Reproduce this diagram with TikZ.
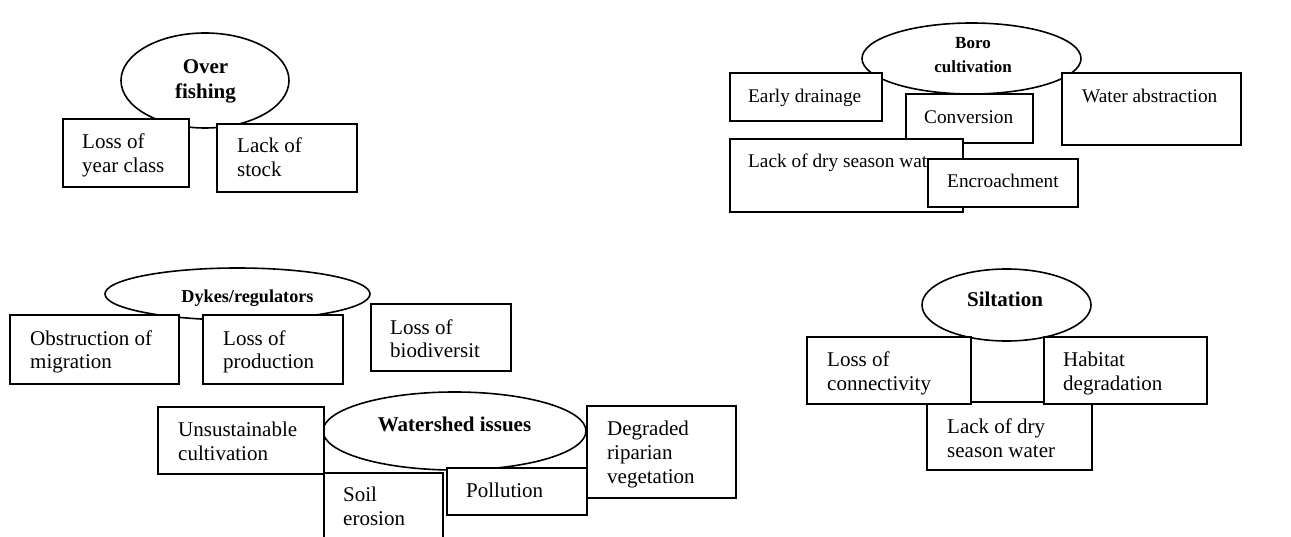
\documentclass[tikz,border=0pt]{standalone}
\usepackage{fontspec}
\setmainfont{Liberation Serif}
\usetikzlibrary{shapes.geometric}
\tikzset{
  boxshape/.style={draw, fill=white, line width=1.6pt, rectangle, inner sep=0pt, anchor=north west},
  boxtext/.style={font=\fontsize{21}{24}\selectfont, align=left, inner sep=0pt, anchor=base west},
  smalltext/.style={font=\fontsize{19.3}{23}\selectfont},
  ellshape/.style={draw, fill=white, line width=1.6pt, ellipse, inner sep=0pt},
  elltext/.style={font=\fontsize{21}{25}\selectfont\bfseries, align=center, inner sep=0pt, anchor=base},
}
% [text options] name, left, top, right, bottom, text-x, last-line baseline, text
\newcommand\mybx[9][]{%
  \node[boxshape, minimum width={(#5-#3)*1pt}, minimum height={(#6-#4)*1pt}] (#2) at (#3,#4) {};
  \node[boxtext,#1] (#2-t) at (#7,#8) {#9};
}
% [text options] name, cx, cy, w, h, text-x, last-line baseline, text
\newcommand\myel[9][]{%
  \node[ellshape, minimum width=#5pt, minimum height=#6pt] (#2) at (#3,#4) {};
  \node[elltext,#1] (#2-t) at (#7,#8) {#9};
}
\begin{document}
\begin{tikzpicture}[x=1pt, y=-1pt]
\path[use as bounding box, clip] (0,0) rectangle (1291,537);
\fill[white] (0,0) rectangle (1291,537);
% Over fishing
\myel{ofe}{205}{80.5}{168}{95}{205.5}{98.3}{Over\\fishing}
\mybx{loy}{62}{118}{188}{186}{82}{172.5}{Loss of\\year class}
\mybx{los}{216}{123}{356}{191}{237}{176.5}{Lack of\\stock}
% Boro cultivation
\myel[font=\fontsize{17}{24.4}\selectfont\bfseries]{bce}{971.5}{58.5}{219}{71}{973}{72.7}{Boro\\cultivation}
\mybx[smalltext]{edr}{729}{72}{881}{120}{748}{103}{Early drainage}
\mybx[smalltext]{wab}{1061}{72}{1240}{144}{1082}{103}{Water abstraction}
\mybx[smalltext]{con}{905}{93}{1032}{142}{924}{124}{Conversion}
\mybx[smalltext]{ldw}{729}{138}{962}{211}{748}{168}{Lack of dry season wat}
\mybx[smalltext]{enc}{927}{158}{1077}{206}{947}{188}{Encroachment}
% Dykes/regulators
\myel[font=\fontsize{18.2}{22}\selectfont\bfseries]{dre}{237.5}{294}{265}{52}{247.5}{303}{Dykes/regulators}
\mybx{obm}{9}{314}{178}{383}{30}{369}{Obstruction of\\migration}
\mybx{lop}{202}{314}{342}{383}{223}{369}{Loss of\\production}
\mybx{lob}{370}{303}{510}{370}{390}{358}{Loss of\\biodiversit}
% Watershed issues
\myel{wse}{454.5}{431}{263}{78}{454.5}{431.7}{Watershed issues}
\mybx{drv}{586}{405}{735}{497}{607}{483.3}{Degraded\\riparian\\vegetation}
\mybx{usc}{157}{406}{323}{473}{178}{460}{Unsustainable\\cultivation}
\mybx{ser}{323}{472}{442}{560}{343}{525}{Soil\\erosion}
\mybx{pol}{446}{467}{586}{514}{466}{497}{Pollution}
% Siltation
\myel{sie}{1006.5}{305}{169}{72}{1005}{307}{Siltation}
\mybx{sld}{926}{401}{1091}{469}{947}{457}{Lack of dry\\season water}
\mybx{slc}{806}{336}{970}{403}{827}{390}{Loss of\\connectivity}
\mybx{shd}{1043}{336}{1206}{403}{1063}{390}{Habitat\\degradation}
\end{tikzpicture}
\end{document}
